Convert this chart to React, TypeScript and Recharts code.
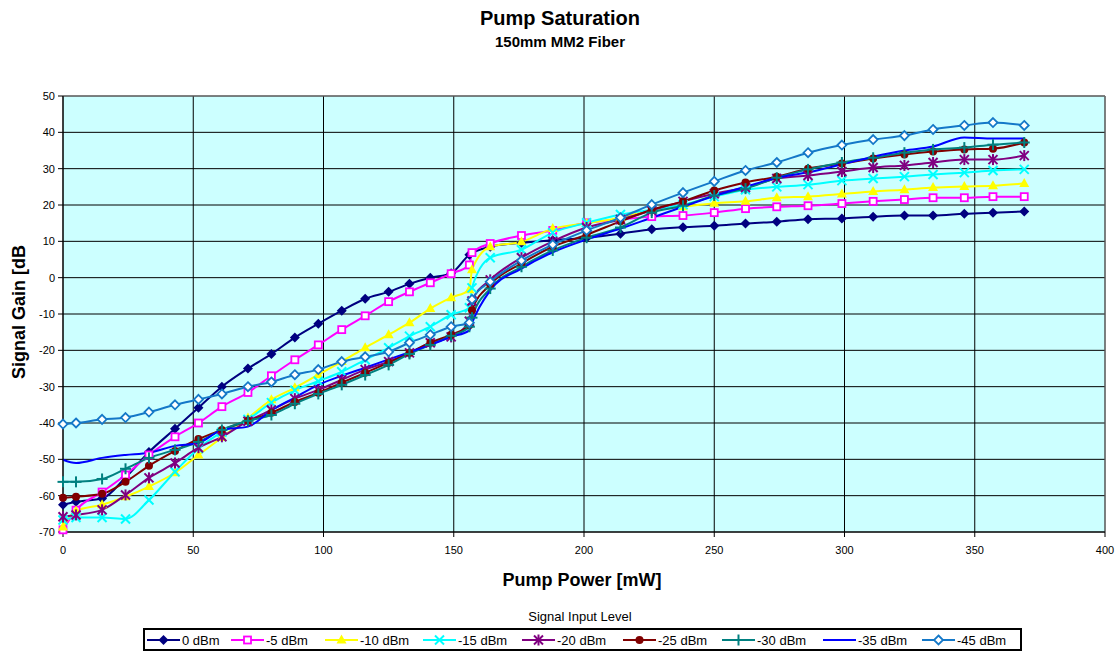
import React from "react";
import {
  CartesianGrid,
  Line,
  LineChart,
  ReferenceLine,
  XAxis,
  YAxis,
} from "recharts";

// pump power sample points [mW], shared by every series
const pumpPower = [
  0, 5, 15, 24, 33, 43, 52, 61, 71, 80, 89, 98, 107, 116, 125, 133, 141, 149,
  156, 157, 164, 176, 188, 201, 214, 226, 238, 250, 262, 274, 286, 299, 311,
  323, 334, 346, 357, 369,
];

// signal gain [dB] per input level (null = no sample at that point)
const gain0 = [
  -62.5, -61.7, -60.8, -55, -48, -41.6, -35.8, -30, -25, -21, -16.5, -12.7,
  -9.1, -5.8, -3.9, -1.7, 0, 1.2, 6.3, null, 8.5, 9.6, 10.3, 11, 12.1, 13.3,
  13.9, 14.3, 14.9, 15.4, 16.1, 16.3, 16.8, 17.1, 17.1, 17.6, 17.9, 18.2,
];
const gain5 = [
  -69.4, -64, -59, -54.3, -48.8, -43.8, -40, -35.5, -31.6, -27, -22.6, -18.5,
  -14.3, -10.5, -6.6, -3.9, -1.4, 1.1, 3.5, 6.9, 9.4, 11.6, 13, 15.1, 16, 16.8,
  17.1, 17.9, 19, 19.5, 19.8, 20.4, 21, 21.5, 22, 22, 22.3, 22.3,
];
const gain10 = [
  -68.6, -64.2, -62.5, -60.3, -57.5, -53.7, -48.8, -44, -38.6, -33.6, -30.3,
  -26.7, -23.1, -19.3, -15.7, -12.4, -8.5, -5.5, -3.3, 2.2, 8.5, 9.9, 13.5, 15,
  16.5, 18.5, 19.5, 20.5, 21, 22, 22.3, 23, 23.7, 24.2, 24.8, 25.1, 25.3, 25.9,
];
const gain15 = [
  -66.7, -66, -66, -66.4, -61.2, -53.4, -47, -42.5, -39, -34.4, -31, -28.5,
  -25.9, -22.6, -19.3, -16.1, -13.5, -10.2, -8.3, -2.8, 5.5, 7.7, 12.4, 15.1,
  17.4, 18.7, 20.1, 22.3, 24.2, 25, 25.6, 26.7, 27.3, 27.8, 28.4, 28.9, 29.5,
  29.8,
];
const gain20 = [
  -65.8, -65.3, -63.9, -59.8, -55.1, -51, -46.8, -43.8, -39.5, -36.4, -33.3,
  -30.9, -28.1, -25.3, -23.1, -20.7, -17.9, -16.3, -12, -6.4, -0.6, 5.5, 10,
  13.8, 16, 18.5, 21, 23.1, 24.8, 27.3, 28.1, 29.2, 30.3, 30.9, 31.7, 32.5,
  32.5, 33.6,
];
const gain25 = [
  -60.6, -60.3, -59.5, -56.2, -51.8, -47.7, -44.4, -41.9, -39.4, -37.2, -34.2,
  -31.7, -28.9, -26.2, -23.4, -20.7, -17.9, -15.7, -13, -9, -1.9, 3.9, 8.5,
  11.8, 15.5, 18.7, 21, 24, 26.2, 27.8, 30, 31.4, 32.8, 33.9, 34.7, 35.3, 35.5,
  37.2,
];
const gain30 = [
  -56.2, -56.2, -55.4, -52.6, -49.6, -47.4, -45.2, -41.9, -39.4, -37.8, -34.7,
  -32, -29.5, -26.8, -24, -21, -18.5, -16, -13.5, -11, -3, 3, 7.5, 11, 13.8,
  17.9, 19.8, 22.6, 24.5, 27.5, 29.8, 31.7, 33, 34.4, 35.3, 35.8, 36.6, 37.2,
];
const gain35 = [
  -50.1, -51, -49.6, -48.8, -48.2, -46.3, -45.5, -41.9, -41, -36.5, -33, -29.5,
  -27, -24.8, -22.5, -20.5, -18.5, -16.3, -14.5, -12.5, -3.5, 2.5, 7, 10.5,
  13.5, 16.5, 19.5, 22.5, 25, 27.5, 29, 31.2, 33.3, 35, 36.1, 38.6, 38.3, 38.3,
];
const gain45 = [
  -40.3, -40, -39, -38.5, -37, -35, -33.5, -32, -30, -28.7, -26.7, -25.3,
  -23.1, -21.8, -20.4, -17.9, -15.7, -13.5, -12.4, -6, -1.1, 4.7, 9.1, 13,
  16.5, 20.1, 23.4, 26.5, 29.5, 31.7, 34.4, 36.5, 38, 39.1, 40.8, 41.9, 42.7,
  41.9,
];

const seriesNames = [
  "0 dBm", "-5 dBm", "-10 dBm", "-15 dBm", "-20 dBm",
  "-25 dBm", "-30 dBm", "-35 dBm", "-45 dBm",
];
const seriesValues = [
  gain0, gain5, gain10, gain15, gain20, gain25, gain30, gain35, gain45,
];
const xTicks = [0, 50, 100, 150, 200, 250, 300, 350, 400];
const yTicks = [-70, -60, -50, -40, -30, -20, -10, 0, 10, 20, 30, 40, 50];

const seriesStyle = [
  { color: "#000080", shape: "diamond" },
  { color: "#FF00FF", shape: "square" },
  { color: "#FFFF00", shape: "triangle" },
  { color: "#00FFFF", shape: "x" },
  { color: "#800080", shape: "star" },
  { color: "#800000", shape: "circle" },
  { color: "#008080", shape: "plus" },
  { color: "#0000FF", shape: "none" },
  { color: "#1478C8", shape: "openDiamond" },
];

const rows = pumpPower.map((p, i) => {
  const row: Record<string, number | null> = { power: p };
  seriesValues.forEach((vals, s) => {
    row["s" + s] = vals[i];
  });
  return row;
});

const FONT = '"Liberation Sans", Arial, sans-serif';

function Marker({ shape, color, cx, cy }: { shape: string; color: string; cx: number; cy: number }) {
  switch (shape) {
    case "diamond":
      return <polygon points={`${cx},${cy - 5} ${cx + 5},${cy} ${cx},${cy + 5} ${cx - 5},${cy}`} fill={color} />;
    case "openDiamond":
      return <polygon points={`${cx},${cy - 4.5} ${cx + 4.5},${cy} ${cx},${cy + 4.5} ${cx - 4.5},${cy}`} fill="#fff" stroke={color} strokeWidth={1.8} />;
    case "square":
      return <rect x={cx - 3.5} y={cy - 3.5} width={7} height={7} fill="#fff" stroke={color} strokeWidth={1.8} />;
    case "triangle":
      return <polygon points={`${cx},${cy - 5.5} ${cx + 5},${cy + 3.5} ${cx - 5},${cy + 3.5}`} fill={color} />;
    case "circle":
      return <circle cx={cx} cy={cy} r={4} fill={color} />;
    case "x":
      return (
        <g stroke={color} strokeWidth={2}>
          <line x1={cx - 4.5} y1={cy - 4.5} x2={cx + 4.5} y2={cy + 4.5} />
          <line x1={cx - 4.5} y1={cy + 4.5} x2={cx + 4.5} y2={cy - 4.5} />
        </g>
      );
    case "star":
      return (
        <g stroke={color} strokeWidth={2}>
          <line x1={cx - 4.5} y1={cy - 4.5} x2={cx + 4.5} y2={cy + 4.5} />
          <line x1={cx - 4.5} y1={cy + 4.5} x2={cx + 4.5} y2={cy - 4.5} />
          <line x1={cx} y1={cy - 5.5} x2={cx} y2={cy + 5.5} />
        </g>
      );
    case "plus":
      return (
        <g stroke={color} strokeWidth={2}>
          <line x1={cx - 5.5} y1={cy} x2={cx + 5.5} y2={cy} />
          <line x1={cx} y1={cy - 5.5} x2={cx} y2={cy + 5.5} />
        </g>
      );
    default:
      return null;
  }
}

function makeDot(shape: string, color: string) {
  return (props: any) => {
    const { cx, cy, index, value } = props;
    if (cx == null || cy == null || value == null || (Array.isArray(value) && value[1] == null)) {
      return <g key={`d${index}`} />;
    }
    return (
      <g key={`d${index}`}>
        <Marker shape={shape} color={color} cx={cx} cy={cy} />
      </g>
    );
  };
}

const legendLeft = [147, 231, 325, 423, 522, 623, 722, 823, 922];

function Legend() {
  return (
    <>
      <div style={{ position: "absolute", left: 480, width: 200, top: 609, textAlign: "center", fontSize: 13, lineHeight: "16px" }}>
        Signal Input Level
      </div>
      <div style={{ position: "absolute", left: 143, top: 628, width: 879, height: 23, border: "2px solid #000", boxSizing: "border-box" }} />
      {seriesNames.map((name, i) => {
        const st = seriesStyle[i];
        return (
          <div key={name} style={{ position: "absolute", left: legendLeft[i], top: 631, height: 18, display: "flex", alignItems: "center" }}>
            <svg width={33} height={18}>
              <line x1={0} y1={9} x2={33} y2={9} stroke={st.color} strokeWidth={2} />
              <Marker shape={st.shape} color={st.color} cx={16.5} cy={9} />
            </svg>
            <span style={{ fontSize: 13, marginLeft: 2, whiteSpace: "nowrap" }}>{name}</span>
          </div>
        );
      })}
    </>
  );
}

export default function App() {
  return (
    <div style={{ position: "absolute", left: 0, top: 0, width: 1120, height: 653, background: "#fff", fontFamily: FONT, color: "#000" }}>
      <div style={{ position: "absolute", left: 0, width: 1120, top: 7, textAlign: "center", fontWeight: "bold", fontSize: 20, lineHeight: "22px" }}>
        Pump Saturation
      </div>
      <div style={{ position: "absolute", left: 0, width: 1120, top: 33, textAlign: "center", fontWeight: "bold", fontSize: 15, lineHeight: "18px" }}>
        150mm MM2 Fiber
      </div>
      <div style={{ position: "absolute", left: 0, top: 0 }}>
        <LineChart width={1120} height={653} data={rows} margin={{ top: 96, right: 15, bottom: 91, left: 23 }}>
          <CartesianGrid stroke="#000" strokeWidth={1} fill="#CCFFFF" fillOpacity={1} />
          <XAxis
            dataKey="power"
            type="number"
            domain={[0, 400]}
            ticks={xTicks}
            height={30}
            stroke="#000"
            tickSize={5}
            tickMargin={9}
            tick={{ fill: "#000", fontSize: 11, fontFamily: FONT }}
          />
          <YAxis
            type="number"
            domain={[-70, 50]}
            ticks={yTicks}
            width={40}
            stroke="#000"
            tickSize={5}
            tickMargin={3}
            tick={{ fill: "#000", fontSize: 11, fontFamily: FONT }}
          />
          <ReferenceLine y={50} stroke="#808080" />
          <ReferenceLine x={400} stroke="#808080" />
          {seriesStyle.map((st, i) => (
            <Line
              key={seriesNames[i]}
              dataKey={"s" + i}
              name={seriesNames[i]}
              type="monotone"
              stroke={st.color}
              strokeWidth={2}
              connectNulls
              dot={st.shape === "none" ? false : makeDot(st.shape, st.color)}
              activeDot={false}
              isAnimationActive={false}
            />
          ))}
        </LineChart>
      </div>
      <div style={{ position: "absolute", left: 432, width: 300, top: 569, textAlign: "center", fontWeight: "bold", fontSize: 18, lineHeight: "22px" }}>
        Pump Power [mW]
      </div>
      <div style={{ position: "absolute", left: -81, width: 200, top: 301, height: 22, textAlign: "center", fontWeight: "bold", fontSize: 18, lineHeight: "22px", transform: "rotate(-90deg)" }}>
        Signal Gain [dB
      </div>
      <Legend />
    </div>
  );
}
